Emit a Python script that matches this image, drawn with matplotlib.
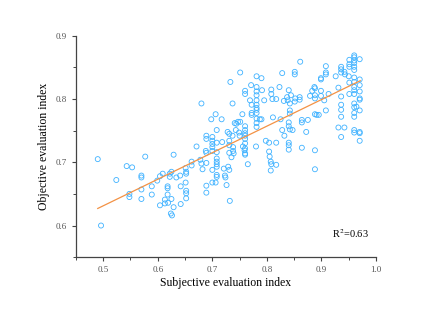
import numpy as np
import matplotlib
matplotlib.use('Agg')
import matplotlib.pyplot as plt
from matplotlib.ticker import MultipleLocator

# subjective (x) vs objective (y) evaluation index
subj = [0.490, 0.496, 0.524, 0.543, 0.553, 0.548, 0.548, 0.570, 0.570, 0.570,
        0.570, 0.577, 0.589, 0.589, 0.599, 0.604, 0.609, 0.604, 0.613, 0.618,
        0.618, 0.618, 0.613, 0.619, 0.622, 0.622, 0.625, 0.629, 0.624, 0.626,
        0.629, 0.625, 0.634, 0.641, 0.642, 0.642, 0.651, 0.652, 0.652, 0.651,
        0.652, 0.652, 0.652, 0.662, 0.662, 0.671, 0.678, 0.680, 0.680, 0.682,
        0.689, 0.689, 0.688, 0.689, 0.689, 0.689, 0.689, 0.698, 0.700, 0.700,
        0.700, 0.700, 0.700, 0.700, 0.700, 0.706, 0.708, 0.708, 0.708, 0.708,
        0.708, 0.708, 0.708, 0.708, 0.708, 0.706, 0.717, 0.718, 0.721, 0.723,
        0.724, 0.726, 0.728, 0.731, 0.731, 0.731, 0.731, 0.729, 0.731, 0.733,
        0.732, 0.737, 0.737, 0.738, 0.738, 0.739, 0.741, 0.743, 0.744, 0.747,
        0.749, 0.751, 0.751, 0.755, 0.756, 0.759, 0.760, 0.760, 0.760, 0.760,
        0.760, 0.760, 0.760, 0.760, 0.760, 0.760, 0.760, 0.765, 0.769, 0.771,
        0.772, 0.772, 0.772, 0.780, 0.781, 0.781, 0.781, 0.781, 0.781, 0.781,
        0.781, 0.781, 0.781, 0.781, 0.781, 0.781, 0.787, 0.790, 0.791, 0.790,
        0.795, 0.798, 0.804, 0.804, 0.805, 0.807, 0.808, 0.807, 0.808, 0.808,
        0.811, 0.810, 0.817, 0.817, 0.817, 0.823, 0.825, 0.828, 0.828, 0.831,
        0.832, 0.837, 0.838, 0.840, 0.842, 0.842, 0.842, 0.840, 0.840, 0.842,
        0.840, 0.840, 0.840, 0.844, 0.847, 0.851, 0.851, 0.852, 0.851, 0.860,
        0.860, 0.861, 0.864, 0.864, 0.864, 0.872, 0.875, 0.879, 0.883, 0.887,
        0.888, 0.888, 0.888, 0.888, 0.888, 0.888, 0.891, 0.895, 0.899, 0.899,
        0.899, 0.899, 0.905, 0.908, 0.908, 0.908, 0.908, 0.913, 0.926, 0.931,
        0.931, 0.936, 0.936, 0.936, 0.936, 0.936, 0.936, 0.936, 0.936, 0.942,
        0.942, 0.943, 0.950, 0.951, 0.951, 0.951, 0.951, 0.951, 0.960, 0.960,
        0.960, 0.960, 0.960, 0.960, 0.960, 0.960, 0.960, 0.960, 0.960, 0.960,
        0.960, 0.960, 0.960, 0.960, 0.960, 0.964, 0.970, 0.970, 0.970, 0.970,
        0.970, 0.970, 0.970, 0.970, 0.970, 0.970, 0.735, 0.750]
obj = [0.705, 0.600, 0.672, 0.694, 0.692, 0.650, 0.645, 0.679, 0.676, 0.657,
       0.642, 0.709, 0.662, 0.649, 0.671, 0.678, 0.682, 0.632, 0.641, 0.662,
       0.659, 0.649, 0.635, 0.636, 0.682, 0.677, 0.685, 0.712, 0.619, 0.616,
       0.629, 0.642, 0.676, 0.679, 0.662, 0.634, 0.691, 0.685, 0.682, 0.668,
       0.655, 0.651, 0.643, 0.701, 0.695, 0.725, 0.704, 0.793, 0.698, 0.689,
       0.742, 0.737, 0.718, 0.715, 0.699, 0.663, 0.652, 0.768, 0.740, 0.734,
       0.729, 0.724, 0.718, 0.688, 0.668, 0.776, 0.751, 0.731, 0.716, 0.706,
       0.701, 0.697, 0.693, 0.680, 0.677, 0.668, 0.768, 0.732, 0.690, 0.679,
       0.676, 0.664, 0.748, 0.745, 0.734, 0.727, 0.715, 0.693, 0.688, 0.827,
       0.639, 0.793, 0.742, 0.724, 0.718, 0.714, 0.762, 0.751, 0.761, 0.764,
       0.747, 0.842, 0.764, 0.776, 0.725, 0.719, 0.813, 0.808, 0.757, 0.751,
       0.746, 0.742, 0.737, 0.730, 0.722, 0.714, 0.712, 0.697, 0.798, 0.822,
       0.791, 0.778, 0.775, 0.725, 0.836, 0.819, 0.812, 0.806, 0.798, 0.791,
       0.786, 0.783, 0.778, 0.769, 0.762, 0.756, 0.768, 0.833, 0.814, 0.768,
       0.798, 0.734, 0.731, 0.717, 0.709, 0.701, 0.697, 0.687, 0.815, 0.808,
       0.771, 0.800, 0.800, 0.731, 0.696, 0.819, 0.768, 0.841, 0.751, 0.797,
       0.742, 0.803, 0.798, 0.814, 0.793, 0.782, 0.777, 0.763, 0.757, 0.752,
       0.731, 0.727, 0.720, 0.806, 0.751, 0.843, 0.839, 0.801, 0.796, 0.803,
       0.799, 0.859, 0.767, 0.763, 0.723, 0.748, 0.767, 0.805, 0.813, 0.819,
       0.817, 0.801, 0.806, 0.776, 0.719, 0.689, 0.775, 0.775, 0.833, 0.831,
       0.813, 0.805, 0.798, 0.852, 0.842, 0.839, 0.782, 0.808, 0.836, 0.818,
       0.755, 0.851, 0.847, 0.842, 0.804, 0.791, 0.783, 0.772, 0.740, 0.755,
       0.843, 0.839, 0.836, 0.862, 0.855, 0.851, 0.826, 0.808, 0.869, 0.866,
       0.861, 0.857, 0.851, 0.846, 0.834, 0.827, 0.819, 0.814, 0.808, 0.793,
       0.787, 0.778, 0.772, 0.751, 0.747, 0.788, 0.863, 0.831, 0.822, 0.812,
       0.801, 0.799, 0.782, 0.748, 0.746, 0.734, 0.708, 0.742]

# fitted line end points
fit_x = [0.490, 0.971]
fit_y = [0.627, 0.829]
r2_text = 'R$^2$=0.63'

plt.rcParams['font.family'] = ['Liberation Serif', 'DejaVu Serif']
plt.rcParams['mathtext.fontset'] = 'stix'

fig = plt.figure(figsize=(4.44, 3.14), dpi=100)
ax = fig.add_axes([0.171, 0.181, 0.676, 0.705])

ax.scatter(subj, obj, s=13, facecolors='none', edgecolors='#3fb2ff', linewidths=0.6, zorder=2)
ax.plot(fit_x, fit_y, color='#f39245', lw=0.9, zorder=3)

ax.set_xlim(0.45, 1.0)
ax.set_ylim(0.55, 0.9)
ax.xaxis.set_major_locator(MultipleLocator(0.1))
ax.xaxis.set_minor_locator(MultipleLocator(0.05))
ax.yaxis.set_major_locator(MultipleLocator(0.1))
ax.yaxis.set_minor_locator(MultipleLocator(0.05))
ax.set_xticks([0.5, 0.6, 0.7, 0.8, 0.9, 1.0])
ax.set_yticks([0.6, 0.7, 0.8, 0.9])

for s in ['top', 'right']:
    ax.spines[s].set_visible(False)
for s in ['left', 'bottom']:
    ax.spines[s].set_color('#444444')
    ax.spines[s].set_linewidth(0.9)

ax.tick_params(which='major', direction='out', length=3, width=0.8, colors='#444444',
               labelsize=6.5, labelcolor='#555555')
ax.tick_params(which='minor', direction='out', length=2, width=0.7, colors='#444444')

ax.set_xlabel('Subjective evaluation index', fontsize=8.5, labelpad=2)
ax.set_ylabel('Objective evaluation index', fontsize=8.5, labelpad=4)

ax.text(0.953, 0.588, r2_text, fontsize=7.5, ha='center', va='center')

fig.savefig('out.png', dpi=100)
